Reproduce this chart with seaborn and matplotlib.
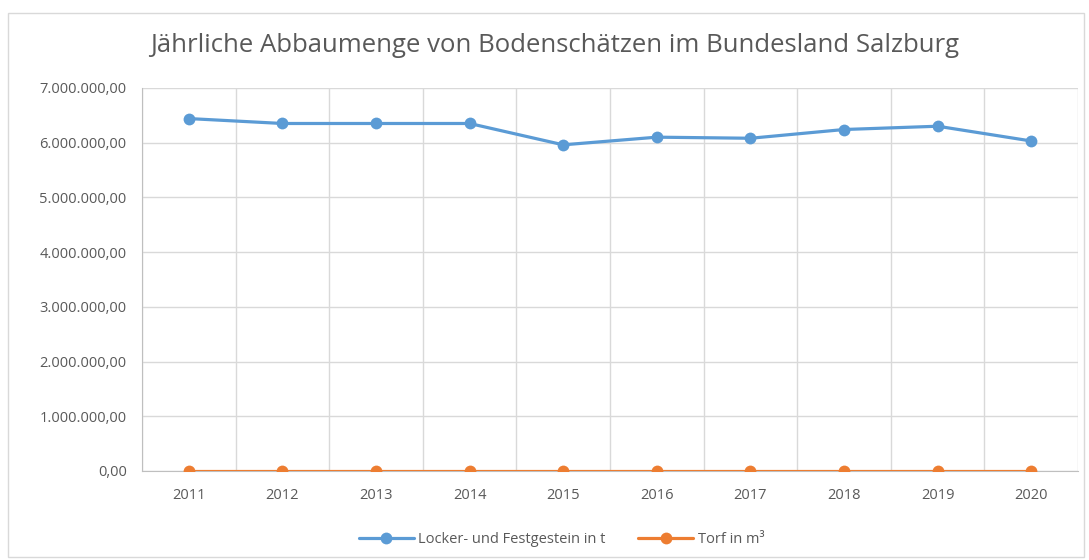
import pandas as pd
import matplotlib
matplotlib.use("Agg")
import matplotlib.pyplot as plt
import seaborn as sns
from matplotlib.ticker import FuncFormatter, MultipleLocator
from matplotlib.patches import Rectangle

# chart data
years = [2011, 2012, 2013, 2014, 2015, 2016, 2017, 2018, 2019, 2020]
gestein = [6440000, 6350000, 6350000, 6350000, 5960000, 6100000, 6080000, 6240000, 6300000, 6030000]
torf = [0, 0, 0, 0, 0, 0, 0, 0, 0, 0]
series_names = ["Locker- und Festgestein in t", "Torf in m³"]


def german_fmt(v, pos):
    s = f"{v:,.2f}"
    return s.replace(",", "X").replace(".", ",").replace("X", ".")


def main():
    sns.set_style("white")
    plt.rcParams["font.family"] = ["Open Sans", "DejaVu Sans"]

    df = pd.DataFrame({
        "pos": list(range(len(years))) * 2,
        "value": gestein + torf,
        "series": [series_names[0]] * len(years) + [series_names[1]] * len(years),
    })

    fig = plt.figure(figsize=(10.89, 5.60), dpi=100)
    ax = fig.add_axes([0.1304, 0.159, 0.8596, 0.684])

    sns.lineplot(
        data=df, x="pos", y="value", hue="series",
        palette=["#5B9BD5", "#ED7D31"], marker="o", markersize=8.5,
        markeredgewidth=0, linewidth=2.3, ax=ax, zorder=3,
    )

    ax.set_xlim(-0.5, len(years) - 0.5)
    ax.set_ylim(0, 7000000)
    ax.yaxis.set_major_locator(MultipleLocator(1000000))
    ax.yaxis.set_major_formatter(FuncFormatter(german_fmt))
    ax.set_xticks(range(len(years)))
    ax.set_xticklabels([str(y) for y in years])
    ax.set_xlabel("")
    ax.set_ylabel("")

    # gridlines like Excel: horizontal at ticks, vertical at category borders
    ax.yaxis.grid(True, color="#D9D9D9", linewidth=1)
    for k in range(len(years) + 1):
        ax.axvline(k - 0.5, color="#D9D9D9", linewidth=1, zorder=0)
    for side in ["top", "right"]:
        ax.spines[side].set_visible(False)
    ax.spines["left"].set_color("#BFBFBF")
    ax.spines["bottom"].set_color("#BFBFBF")
    ax.tick_params(axis="both", length=0, labelsize=10.5, colors="#595959")
    ax.tick_params(axis="x", pad=12)
    ax.tick_params(axis="y", pad=11)

    fig.text(0.509, 0.918, "Jährliche Abbaumenge von Bodenschätzen im Bundesland Salzburg",
             ha="center", va="center", fontsize=18.5, color="#595959")

    handles, labels = ax.get_legend_handles_labels()
    ax.legend(handles, labels, loc="center", bbox_to_anchor=(0.448, -0.18), ncol=2,
              frameon=False, fontsize=10.5, labelcolor="#595959",
              handlelength=3.8, columnspacing=2.2, handletextpad=0.3)

    fig.patches.append(Rectangle((0.007, 0.005), 0.988, 0.972, transform=fig.transFigure,
                                 fill=False, edgecolor="#D9D9D9", linewidth=1))

    fig.savefig("out.png", dpi=100)


if __name__ == "__main__":
    main()
